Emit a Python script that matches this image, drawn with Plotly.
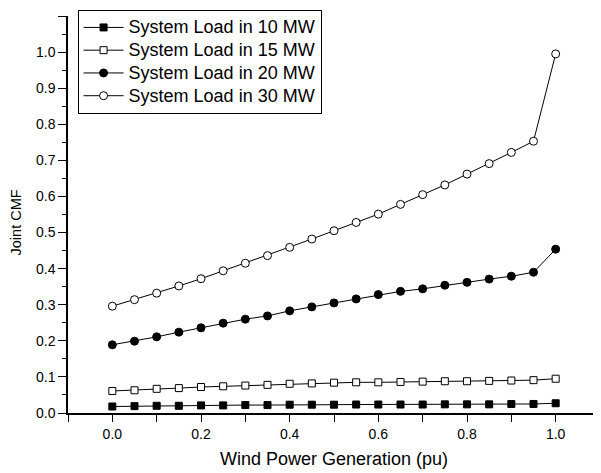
import plotly.graph_objects as go

wind_pu = [0.0, 0.05, 0.10, 0.15, 0.20, 0.25, 0.30, 0.35, 0.40, 0.45, 0.50,
           0.55, 0.60, 0.65, 0.70, 0.75, 0.80, 0.85, 0.90, 0.95, 1.0]

load_10mw = [0.018, 0.019, 0.020, 0.020, 0.021, 0.021, 0.022, 0.022, 0.023, 0.023, 0.023,
             0.0235, 0.0235, 0.0235, 0.0235, 0.024, 0.024, 0.024, 0.025, 0.025, 0.027]
load_15mw = [0.061, 0.063, 0.067, 0.069, 0.072, 0.074, 0.076, 0.078, 0.081, 0.082, 0.084,
             0.085, 0.085, 0.086, 0.087, 0.088, 0.088, 0.089, 0.090, 0.091, 0.095]
load_20mw = [0.189, 0.199, 0.211, 0.224, 0.236, 0.249, 0.260, 0.269, 0.283, 0.294, 0.305,
             0.316, 0.328, 0.337, 0.344, 0.354, 0.362, 0.371, 0.379, 0.390, 0.454]
load_30mw = [0.296, 0.314, 0.332, 0.352, 0.372, 0.394, 0.415, 0.436, 0.459, 0.482, 0.505,
             0.528, 0.551, 0.578, 0.605, 0.632, 0.662, 0.691, 0.722, 0.753, 0.995]

series_names = ["System Load in 10 MW", "System Load in 15 MW",
                "System Load in 20 MW", "System Load in 30 MW"]

FONT = "Liberation Sans, Arial, sans-serif"

styles = [
    dict(symbol="square", size=7, color="black"),
    dict(symbol="square", size=7, color="white"),
    dict(symbol="circle", size=8, color="black"),
    dict(symbol="circle", size=8, color="white"),
]

fig = go.Figure()
for name, ys, st in zip(series_names, [load_10mw, load_15mw, load_20mw, load_30mw], styles):
    fig.add_trace(go.Scatter(
        x=wind_pu, y=ys,
        name='<span style="font-size:18px">' + name + '</span>',
        mode="lines+markers",
        line=dict(color="black", width=1),
        marker=dict(symbol=st["symbol"], size=st["size"], color=st["color"],
                    line=dict(color="black", width=1)),
    ))

# The page body has an 8px default margin, so the figure is sized 8px smaller
fig.update_layout(
    width=593, height=465,
    margin=dict(l=60, r=1, t=8, b=60),
    paper_bgcolor="white", plot_bgcolor="white",
    font=dict(family=FONT, size=14, color="black"),
    showlegend=True,
    legend=dict(
        x=0.018, y=1.015, xanchor="left", yanchor="top",
        bordercolor="black", borderwidth=1, bgcolor="white",
        font=dict(family=FONT, size=15.2, color="black"),
        tracegroupgap=0, itemwidth=40,
    ),
    annotations=[
        dict(text="Joint CMF", xref="paper", yref="paper", x=-0.0977, y=0.48,
             textangle=-90, showarrow=False, xanchor="center", yanchor="middle",
             font=dict(family=FONT, size=14.5, color="black")),
        dict(text="Wind Power Generation (pu)", xref="paper", yref="paper",
             x=0.5, y=-0.117, showarrow=False, xanchor="center", yanchor="middle",
             font=dict(family=FONT, size=18, color="black")),
    ],
)

fig.update_xaxes(
    range=[-0.1, 1.1], tick0=0, dtick=0.2, tickformat=".1f",
    showline=True, linecolor="black", linewidth=1.5,
    ticks="outside", ticklen=7, tickwidth=1, tickcolor="black",
    minor=dict(dtick=0.1, tick0=0, ticks="outside", ticklen=7, tickcolor="black", tickwidth=1),
    showgrid=False, zeroline=False, mirror=False,
    tickfont=dict(family=FONT, size=14, color="black"),
)
fig.update_yaxes(
    range=[0, 1.1], tick0=0, dtick=0.1, tickformat=".1f",
    showline=True, linecolor="black", linewidth=1.5,
    ticks="outside", ticklen=8, tickwidth=1, tickcolor="black",
    minor=dict(dtick=0.05, tick0=0, ticks="outside", ticklen=4, tickcolor="black", tickwidth=1),
    showgrid=False, zeroline=False, mirror=False,
    tickfont=dict(family=FONT, size=14, color="black"),
)

fig.write_html("out.html")
